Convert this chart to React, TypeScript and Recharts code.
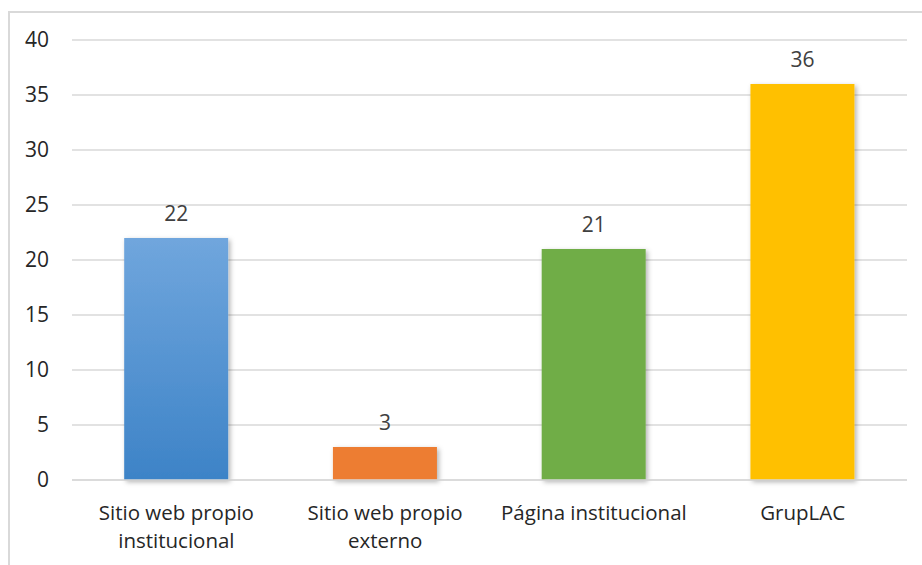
import { Bar, BarChart, CartesianGrid, Cell, LabelList, XAxis, YAxis } from 'recharts';

const categories = ['Sitio web propio institucional', 'Sitio web propio externo', 'Página institucional', 'GrupLAC'];
const values = [22, 3, 21, 36];
const yTicks = [0, 5, 10, 15, 20, 25, 30, 35, 40];

const colors = ['url(#blueGrad)', '#ED7D31', '#70AD47', '#FFC000'];
const font = '"Open Sans", sans-serif';
const tickFontSize = 20.5;

const data = categories.map((name, i) => ({ name, value: values[i] }));

let ctx: CanvasRenderingContext2D | null = null;
function wrapWords(text: string, maxWidth: number) {
  if (!ctx) ctx = document.createElement('canvas').getContext('2d');
  if (!ctx) return [text];
  ctx.font = `${tickFontSize}px ${font}`;
  const lines: string[] = [];
  let line = '';
  for (const word of text.split(' ')) {
    const test = line ? `${line} ${word}` : word;
    if (line && ctx.measureText(test).width > maxWidth) {
      lines.push(line);
      line = word;
    } else {
      line = test;
    }
  }
  if (line) lines.push(line);
  return lines;
}

function CategoryTick(props: any) {
  const { x, y, payload } = props;
  const lines = wrapWords(String(payload.value), 200);
  return (
    <text x={x} y={y} textAnchor="middle" fill="#262626" fontSize={tickFontSize} fontFamily={font}>
      {lines.map((l, i) => (
        <tspan key={i} x={x} dy={i === 0 ? '0.71em' : 28}>
          {l}
        </tspan>
      ))}
    </text>
  );
}

export default function App() {
  return (
    <div style={{ position: 'absolute', left: 0, top: 0, width: 922, height: 565, background: '#fff', overflow: 'hidden' }}>
      <div
        style={{
          position: 'absolute',
          left: 8,
          top: 11,
          width: 930,
          height: 570,
          borderTop: '2px solid #d9d9d9',
          borderLeft: '2px solid #d9d9d9'
        }}
      />
      <BarChart
        width={922}
        height={565}
        data={data}
        margin={{ top: 40, right: 15, left: 0, bottom: 0 }}
        barCategoryGap="25%"
        style={{ position: 'absolute', left: 0, top: 0 }}
      >
        <defs>
          <linearGradient id="blueGrad" x1="0" y1="0" x2="0" y2="1">
            <stop offset="0%" stopColor="#70A6DD" />
            <stop offset="100%" stopColor="#3D83C7" />
          </linearGradient>
          <filter id="shadow" x="-10%" y="-10%" width="130%" height="130%">
            <feDropShadow dx="2" dy="2" stdDeviation="2.5" floodColor="#000" floodOpacity="0.3" />
          </filter>
        </defs>
        <CartesianGrid vertical={false} stroke="#d9d9d9" strokeWidth={1.5} />
        <XAxis
          dataKey="name"
          height={85}
          axisLine={{ stroke: '#d9d9d9', strokeWidth: 1.5 }}
          tickLine={false}
          tickSize={0}
          tickMargin={25}
          interval={0}
          tick={<CategoryTick />}
        />
        <YAxis
          width={72}
          domain={[0, 40]}
          ticks={yTicks}
          axisLine={false}
          tickLine={false}
          tickSize={0}
          tickMargin={23}
          tick={{ fill: '#262626', fontSize: 21, fontFamily: font }}
        />
        <Bar dataKey="value" isAnimationActive={false}>
          {data.map((d, i) => (
            <Cell key={d.name} fill={colors[i]} filter="url(#shadow)" />
          ))}
          <LabelList dataKey="value" position="top" offset={17} fill="#404040" fontSize={21} fontFamily={font} />
        </Bar>
      </BarChart>
    </div>
  );
}
